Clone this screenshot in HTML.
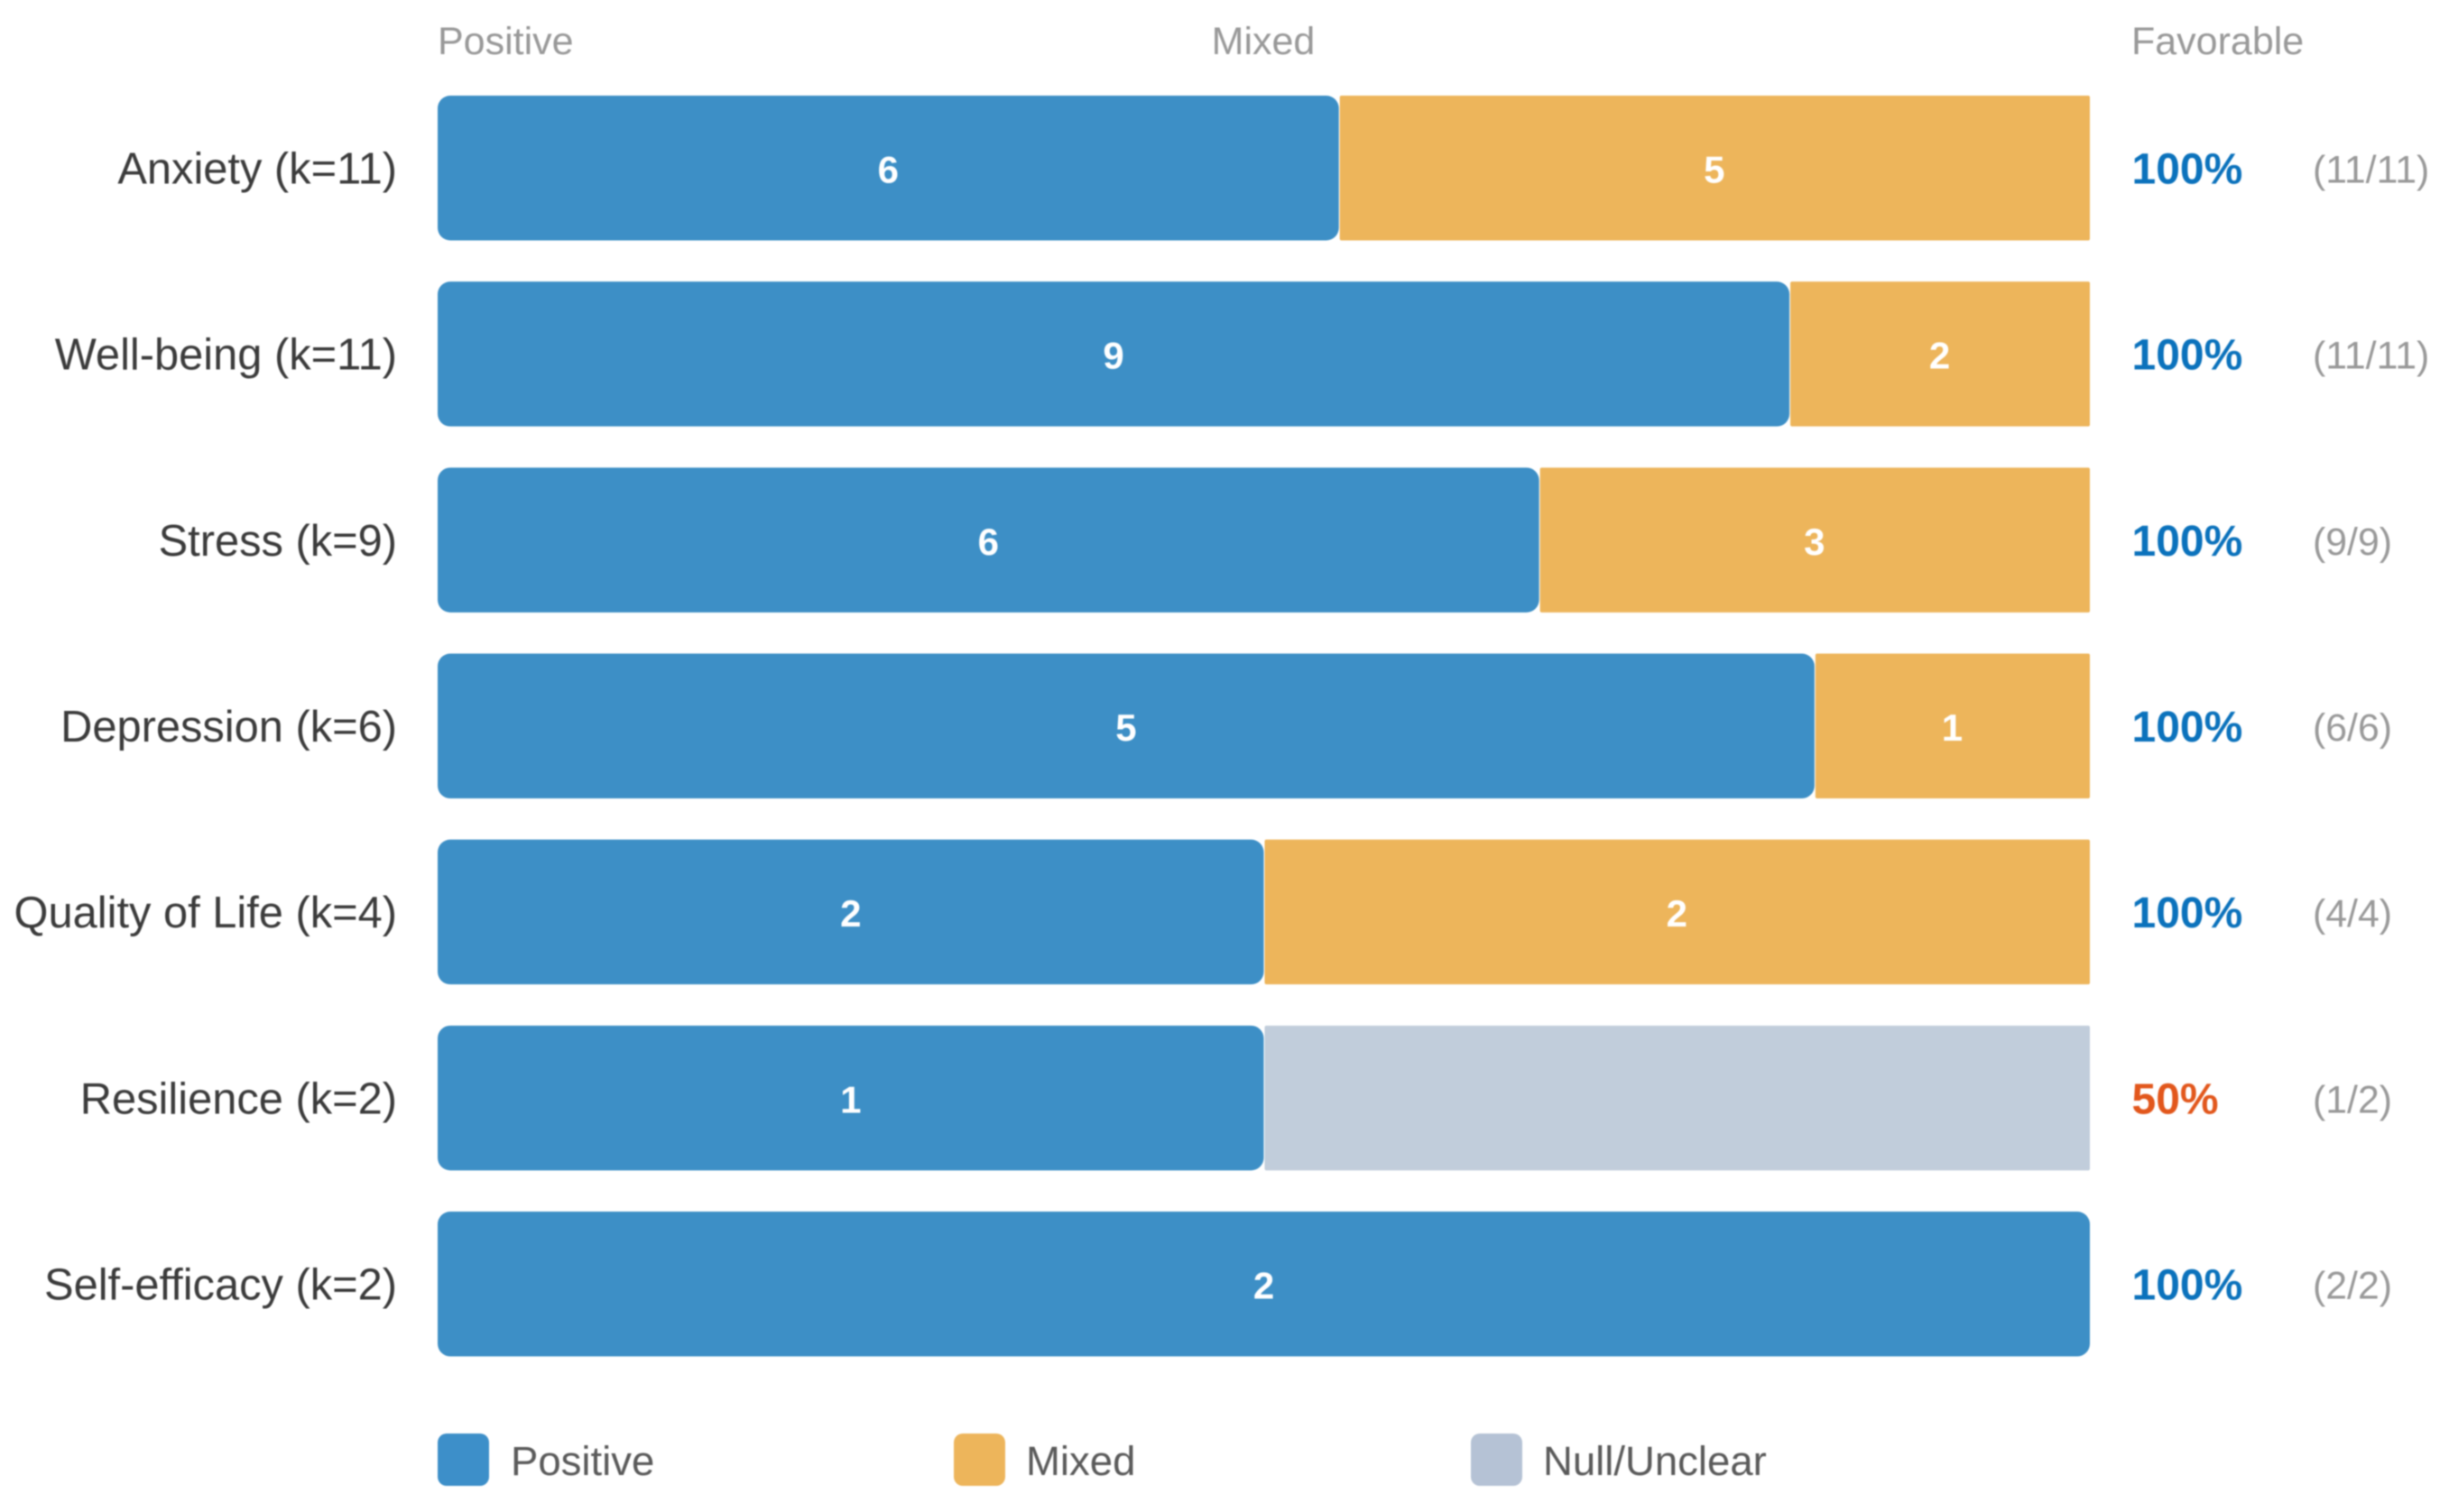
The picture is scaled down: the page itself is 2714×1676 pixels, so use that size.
<!DOCTYPE html>
<html lang="en">
<head>
<meta charset="utf-8">
<title>Outcome summary chart</title>
<style>
html,body{margin:0;padding:0;background:#fff;width:2714px;height:1676px;overflow:hidden}
svg{display:block;filter:blur(0.7px)}
text{font-family:"Liberation Sans",sans-serif}
</style>
</head>
<body>
<svg id="chart" xmlns="http://www.w3.org/2000/svg" width="2714" height="1676" viewBox="0 0 2714 1676">
  <rect x="0" y="0" width="2714" height="1676" fill="#ffffff"/>
  <text x="485" y="60" font-size="43" fill="#999999">Positive</text>
  <text x="1400" y="60" font-size="43" fill="#999999" text-anchor="middle">Mixed</text>
  <text x="2362" y="60" font-size="43" fill="#999999">Favorable</text>
  <g id="bars"></g>
  <g>
    <g>
      <rect x="485" y="1589" width="57" height="58" rx="10" fill="#3d8fc9"/>
      <text x="566" y="1635" font-size="45.5" fill="#5a5a5a">Positive</text>
    </g>
    <g>
      <rect x="1057" y="1589" width="57" height="58" rx="10" fill="#edb55b"/>
      <text x="1137" y="1635" font-size="45.5" fill="#5a5a5a">Mixed</text>
    </g>
    <g>
      <rect x="1630" y="1589" width="57" height="58" rx="10" fill="#b5c2d5"/>
      <text x="1710" y="1635" font-size="45.5" fill="#5a5a5a">Null/Unclear</text>
    </g>
  </g>
</svg>
<script>
const categories = ["Anxiety (k=11)", "Well-being (k=11)", "Stress (k=9)", "Depression (k=6)", "Quality of Life (k=4)", "Resilience (k=2)", "Self-efficacy (k=2)"];
const positiveValues = [6, 9, 6, 5, 2, 1, 2];
const mixedValues = [5, 2, 3, 1, 2, 0, 0];
const nullValues = [0, 0, 0, 0, 0, 1, 0];
const favorableLabels = ["100%", "100%", "100%", "100%", "100%", "50%", "100%"];
const countLabels = ["(11/11)", "(11/11)", "(9/9)", "(6/6)", "(4/4)", "(1/2)", "(2/2)"];

const NS = "http://www.w3.org/2000/svg";
const plotLeft = 485, plotWidth = 1831, firstTop = 106, rowPitch = 206.17, barHeight = 160.5;
const group = document.getElementById("bars");

function xScale(share) { return plotLeft + share * plotWidth; }
function rowTop(i) { return firstTop + i * rowPitch; }
function slug(s) { return s.toLowerCase().replace(/[^a-z0-9]+/g, "-").replace(/^-|-$/g, ""); }

function svgEl(tag, attrs, text) {
  const el = document.createElementNS(NS, tag);
  for (const k in attrs) el.setAttribute(k, attrs[k]);
  if (text !== undefined) el.textContent = text;
  return el;
}

function segment(parent, x0, x1, y, fill, radius, name) {
  const el = svgEl("rect", { x: x0, y: y, width: Math.max(0, x1 - x0), height: barHeight, rx: radius, fill: fill });
  
  
  parent.appendChild(el);
}

function valueLabel(parent, x, y, value, name) {
  const el = svgEl("text", { x: x, y: y, "font-size": 42, "font-weight": "bold", fill: "#ffffff", "text-anchor": "middle" }, value);
  
  
  parent.appendChild(el);
}

categories.forEach(function (cat, i) {
  const id = slug(cat.replace(/\(.*\)/, ""));
  const total = positiveValues[i] + mixedValues[i] + nullValues[i];
  const top = rowTop(i);
  const base = top + 96.5;

  const row = svgEl("g", {});
  
  
  group.appendChild(row);

  const label = svgEl("text", { x: 440, y: base + 1, "font-size": 48.8, fill: "#3b3b3b", "text-anchor": "end" }, cat);
  
  
  row.appendChild(label);

  const xPos = xScale(positiveValues[i] / total);
  const xMix = xScale((positiveValues[i] + mixedValues[i]) / total);
  const xEnd = xScale(1);

  if (mixedValues[i] > 0) segment(row, xPos + 1, xMix, top, "#edb55b", 2, 'mixed-segment-' + id);
  if (nullValues[i] > 0) segment(row, xMix + 1, xEnd, top, "#c1cddb", 2, 'null-segment-' + id);
  if (positiveValues[i] > 0) segment(row, plotLeft, xPos, top, "#3d8fc6", 14, 'positive-segment-' + id);

  if (positiveValues[i] > 0) valueLabel(row, (plotLeft + xPos) / 2, base, positiveValues[i], 'positive-value-' + id);
  if (mixedValues[i] > 0) valueLabel(row, (xPos + xMix) / 2, base, mixedValues[i], 'mixed-value-' + id);

  const fav = svgEl("text", { x: 2362.5, y: base + 1, "font-size": 48, "font-weight": "bold", fill: favorableLabels[i] === "100%" ? "#0b72bc" : "#e2571c" }, favorableLabels[i]);
  
  
  row.appendChild(fav);

  const cnt = svgEl("text", { x: 2563, y: base, "font-size": 42.8, fill: "#999999" }, countLabels[i]);
  
  
  row.appendChild(cnt);
});
</script>
</body>
</html>
